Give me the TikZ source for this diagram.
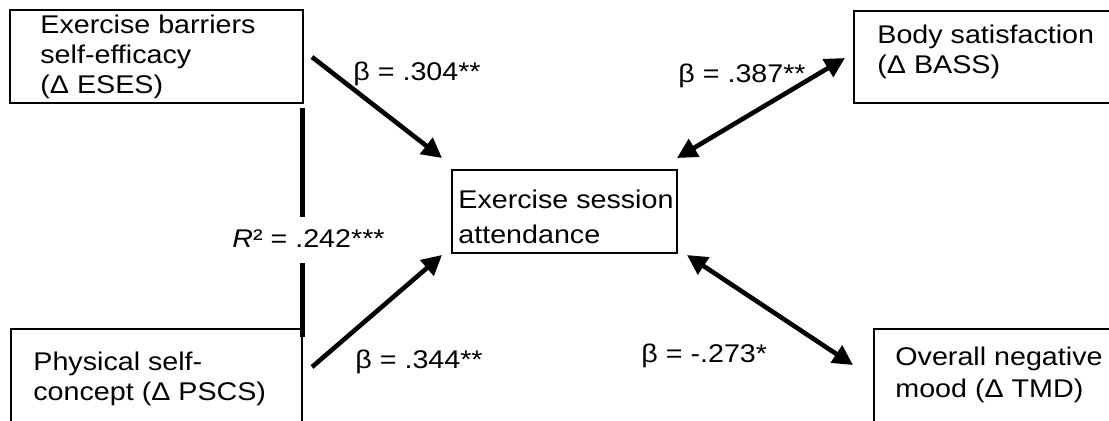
\documentclass[tikz,border=0pt]{standalone}
\usepackage{fontspec}
\setmainfont{Liberation Sans}[FakeStretch=1.12]
\usetikzlibrary{arrows.meta}

\begin{document}
\begin{tikzpicture}[x=0.5pt, y=-0.5pt]
    \tikzset{%
      box/.style={draw, line width=0.9pt, inner sep=0pt},
      txt/.style={anchor=base west, align=left, inner sep=0pt,
        font=\fontsize{12.8}{15}\selectfont},
      eff/.style={line width=2.3pt,
        -{Triangle[length=10pt, width=10pt]}},
      covar/.style={line width=2.3pt,
        {Triangle[length=10pt, width=10pt]}-{Triangle[length=10pt, width=10pt]}},
      corr/.style={line width=2.5pt},
    }
    \useasboundingbox (0,0) rectangle (1109,420);

    % boxes (text placed at the baseline of its last line)
    \node[box, minimum width=146.5pt, minimum height=46.5pt] (eses) at (156.5,56.5) {};
    \node[txt] (eses-t) at (40,93) {Exercise barriers\\self-efficacy\\(Δ ESES)};

    \node[box, minimum width=145.5pt, minimum height=58pt] (pscs) at (156.5,387) {};
    \node[txt] (pscs-t) at (33,400) {Physical self-\\concept (Δ PSCS)};

    \node[box, minimum width=112.5pt, minimum height=41.5pt] (att) at (564.5,211.5) {};
    \node[txt] (att-t) at (458,243) {Exercise session\\[2.5pt]attendance};

    \node[box, minimum width=135.5pt, minimum height=46pt] (bass) at (989.5,57) {};
    \node[txt] (bass-t) at (877,73) {Body satisfaction\\(Δ BASS)};

    \node[box, minimum width=125.5pt, minimum height=58pt] (tmd) at (999.5,387) {};
    \node[txt] (tmd-t) at (895,397) {Overall negative\\[1pt]mood (Δ TMD)};

    % arrow ends
    \coordinate (A0) at (312,57);
    \coordinate (A1) at (442,158);
    \coordinate (B0) at (312,367);
    \coordinate (B1) at (442,255);
    \coordinate (C0) at (677,158);
    \coordinate (C1) at (845,58);
    \coordinate (D0) at (687,255);
    \coordinate (D1) at (853,365);

    \draw[eff] (A0) -- (A1);
    \draw[eff] (B0) -- (B1);
    \draw[covar] (C0) -- (C1);
    \draw[covar] (D0) -- (D1);

    % correlation bar
    \node[txt] (r2) at (232,247) {{\itshape R}² = .242***};
    \coordinate (G0) at (302.5,108);
    \coordinate (G1) at (302.5,217);
    \coordinate (G2) at (302.5,263);
    \coordinate (G3) at (302.5,337);
    \draw[corr] (G0) -- (G1);
    \draw[corr] (G2) -- (G3);

    \node[txt] (b304) at (353,80) {β = .304**};
    \node[txt] (b387) at (678,82) {β = .387**};
    \node[txt] (b344) at (355,368) {β = .344**};
    \node[txt] (b273) at (641,362) {β = -.273*};
  \end{tikzpicture}
\end{document}
